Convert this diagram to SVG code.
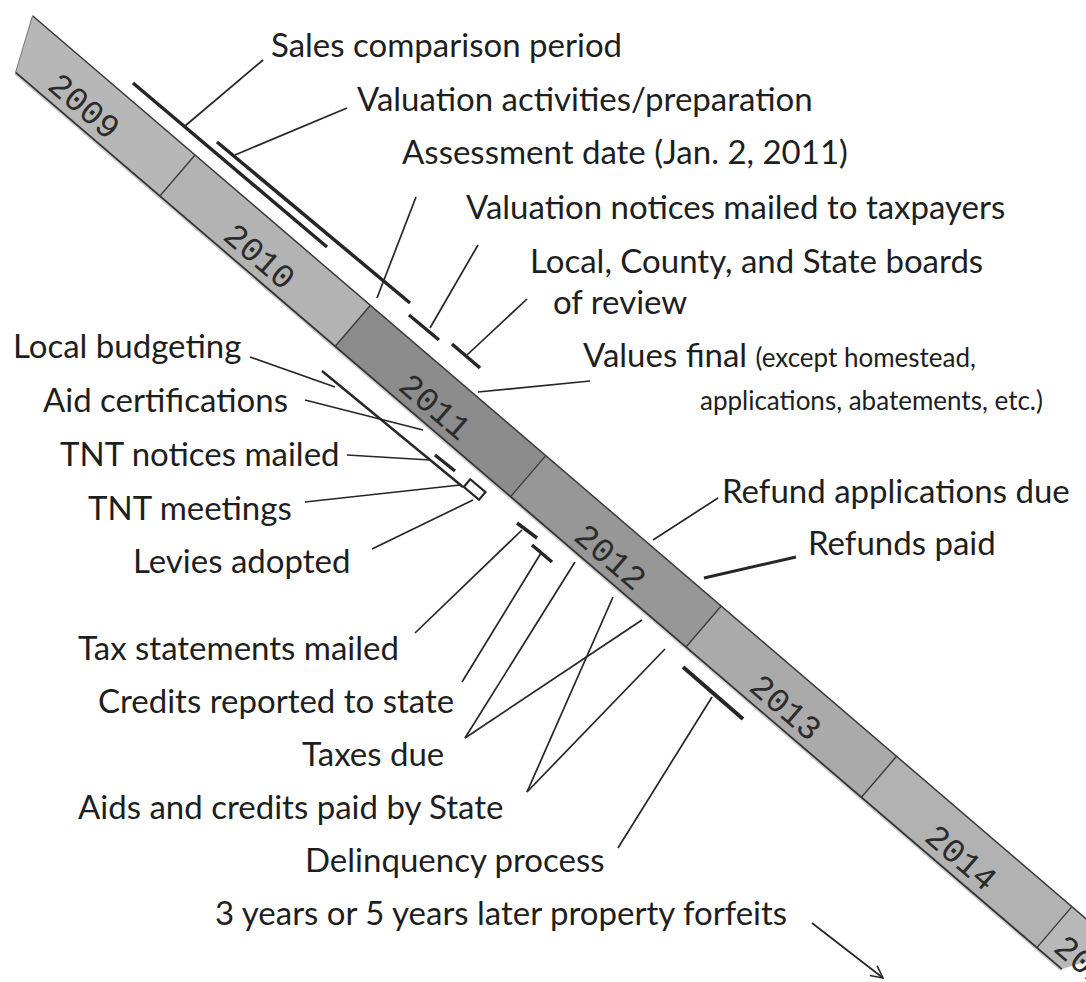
<svg xmlns="http://www.w3.org/2000/svg" width="1086" height="982" viewBox="0 0 1086 982">
<defs>
<style>
.lbl{font-family:Lato,"Open Sans","Liberation Sans",sans-serif;font-size:33px;fill:#1e1e1e}
.sm{font-size:26px}
.yr{font-family:"Liberation Mono","DejaVu Sans Mono",monospace;font-size:34px;fill:#2b2b2b;text-anchor:middle}
.mk{stroke:#262626;stroke-width:3.5;stroke-linecap:butt;fill:none}
.ld{stroke:#262626;stroke-width:1.7;fill:none}
.div{stroke:#3c3c3c;stroke-width:1.4}
</style>
<marker id="arr" viewBox="0 0 14 14" refX="13" refY="7" markerWidth="14" markerHeight="14" markerUnits="userSpaceOnUse" orient="auto">
<path d="M1,1 L13,7 L1,13" fill="none" stroke="#262626" stroke-width="1.5"/>
</marker>
</defs>
<rect width="1086" height="982" fill="#ffffff"/>

<g id="timeline" transform="translate(195,155) rotate(40.6)">
  <polygon points="-214,0 0,0 0,54 -190,54" fill="#b7b7b7"/>
  <polygon points="0,0 231,0 231,54 0,54" fill="#b3b3b3"/>
  <polygon points="231,0 462,0 462,54 231,54" fill="#8c8c8c"/>
  <polygon points="462,0 693,0 693,54 462,54" fill="#979797"/>
  <polygon points="693,0 924,0 924,54 693,54" fill="#aaaaaa"/>
  <polygon points="924,0 1155,0 1155,54 924,54" fill="#b2b2b2"/>
  <polygon points="1155,0 1222,0 1188,54 1155,54" fill="#b8b8b8"/>
  <line x1="-214" y1="0" x2="1222" y2="0" stroke="#3a3a3a" stroke-width="1.5"/>
  <line x1="-190" y1="55" x2="1188" y2="55" stroke="#d0d0d0" stroke-width="3"/>
  <line x1="-190" y1="54" x2="1188" y2="54" stroke="#333333" stroke-width="1.8"/>
  <line x1="-214" y1="0" x2="-190" y2="54" stroke="#7a7a7a" stroke-width="1"/>
  <line class="div" x1="0" y1="0" x2="0" y2="54"/>
  <line class="div" x1="231" y1="0" x2="231" y2="54"/>
  <line class="div" x1="462" y1="0" x2="462" y2="54"/>
  <line class="div" x1="693" y1="0" x2="693" y2="54"/>
  <line class="div" x1="924" y1="0" x2="924" y2="54"/>
  <line class="div" x1="1155" y1="0" x2="1155" y2="54"/>
  <text class="yr" x="-116" y="46">2009</text>
  <text class="yr" x="115" y="46">2010</text>
  <text class="yr" x="346" y="46">2011</text>
  <text class="yr" x="577" y="46">2012</text>
  <text class="yr" x="808" y="46">2013</text>
  <text class="yr" x="1039" y="46">2014</text>
  <text class="yr" x="1168" y="46" style="text-anchor:start">2015</text>
</g>

<g id="connectors">
  <line class="mk" x1="133" y1="83" x2="327" y2="247"/>
  <line class="mk" x1="217" y1="142" x2="410" y2="303"/>
  <line class="mk" x1="409" y1="315" x2="439" y2="340"/>
  <line class="mk" x1="452" y1="344" x2="480" y2="368"/>
  <line class="mk" x1="322" y1="371" x2="463" y2="487" style="stroke-width:2.4"/>
  <line class="mk" x1="435" y1="455" x2="455" y2="471"/>
  <g transform="translate(195,155) rotate(40.6)">
    <rect x="420" y="67" width="20" height="10" fill="none" stroke="#262626" stroke-width="2.2"/>
  </g>
  <line class="mk" x1="517" y1="523" x2="537" y2="538"/>
  <line class="mk" x1="532" y1="545" x2="552" y2="562"/>
  <line class="mk" x1="683" y1="667" x2="743" y2="719" style="stroke-width:4"/>
  <line class="mk" x1="704" y1="578" x2="796" y2="557" style="stroke-width:3"/>

  <line class="ld" x1="263" y1="60" x2="185" y2="126"/>
  <line class="ld" x1="347" y1="108" x2="235" y2="155"/>
  <line class="ld" x1="416" y1="197" x2="377" y2="298"/>
  <line class="ld" x1="478" y1="245" x2="430" y2="328"/>
  <line class="ld" x1="527" y1="299" x2="467" y2="355"/>
  <line class="ld" x1="590" y1="381" x2="478" y2="392"/>
  <line class="ld" x1="718" y1="498" x2="653" y2="540"/>
  <line class="ld" x1="250" y1="357" x2="335" y2="387"/>
  <line class="ld" x1="305" y1="400" x2="423" y2="430"/>
  <line class="ld" x1="347" y1="455" x2="430" y2="460"/>
  <line class="ld" x1="305" y1="502" x2="460" y2="485"/>
  <line class="ld" x1="372" y1="549" x2="473" y2="500"/>
  <line class="ld" x1="415" y1="633" x2="522" y2="530"/>
  <line class="ld" x1="462" y1="682" x2="541" y2="553"/>
  <line class="ld" x1="465" y1="738" x2="575" y2="562"/>
  <line class="ld" x1="465" y1="738" x2="642" y2="620"/>
  <line class="ld" x1="527" y1="792" x2="613" y2="597"/>
  <line class="ld" x1="527" y1="792" x2="665" y2="649"/>
  <line class="ld" x1="618" y1="848" x2="712" y2="697"/>
  <line class="ld" x1="812" y1="923" x2="883" y2="978" marker-end="url(#arr)"/>
</g>

<g id="sales"><text class="lbl" x="271" y="57">Sales comparison period</text></g>
<g id="valuation"><text class="lbl" x="357" y="111">Valuation activities/preparation</text></g>
<g id="assessment"><text class="lbl" x="402" y="164">Assessment date (Jan. 2, 2011)</text></g>
<g id="notices"><text class="lbl" x="466" y="219">Valuation notices mailed to taxpayers</text></g>
<g id="boards"><text class="lbl" x="530" y="273">Local, County, and State boards</text><text class="lbl" x="553" y="314">of review</text></g>
<g id="valuesfinal"><text class="lbl" x="583" y="367">Values final <tspan class="sm">(except homestead,</tspan></text><text class="lbl sm" x="700" y="410">applications, abatements, etc.)</text></g>
<g id="refundapps"><text class="lbl" x="722" y="503">Refund applications due</text></g>
<g id="refundspaid"><text class="lbl" x="808" y="555">Refunds paid</text></g>
<g id="budgeting"><text class="lbl" x="13" y="358">Local budgeting</text></g>
<g id="aidcert"><text class="lbl" x="43" y="412">Aid certifications</text></g>
<g id="tntnotices"><text class="lbl" x="60" y="466">TNT notices mailed</text></g>
<g id="tntmeetings"><text class="lbl" x="88" y="520">TNT meetings</text></g>
<g id="levies"><text class="lbl" x="133" y="573">Levies adopted</text></g>
<g id="taxstatements"><text class="lbl" x="78" y="660">Tax statements mailed</text></g>
<g id="credits"><text class="lbl" x="98" y="713">Credits reported to state</text></g>
<g id="taxesdue"><text class="lbl" x="302" y="766">Taxes due</text></g>
<g id="aids"><text class="lbl" x="78" y="819">Aids and credits paid by State</text></g>
<g id="delinquency"><text class="lbl" x="305" y="872">Delinquency process</text></g>
<g id="forfeits"><text class="lbl" x="215" y="925">3 years or 5 years later property forfeits</text></g>
</svg>
